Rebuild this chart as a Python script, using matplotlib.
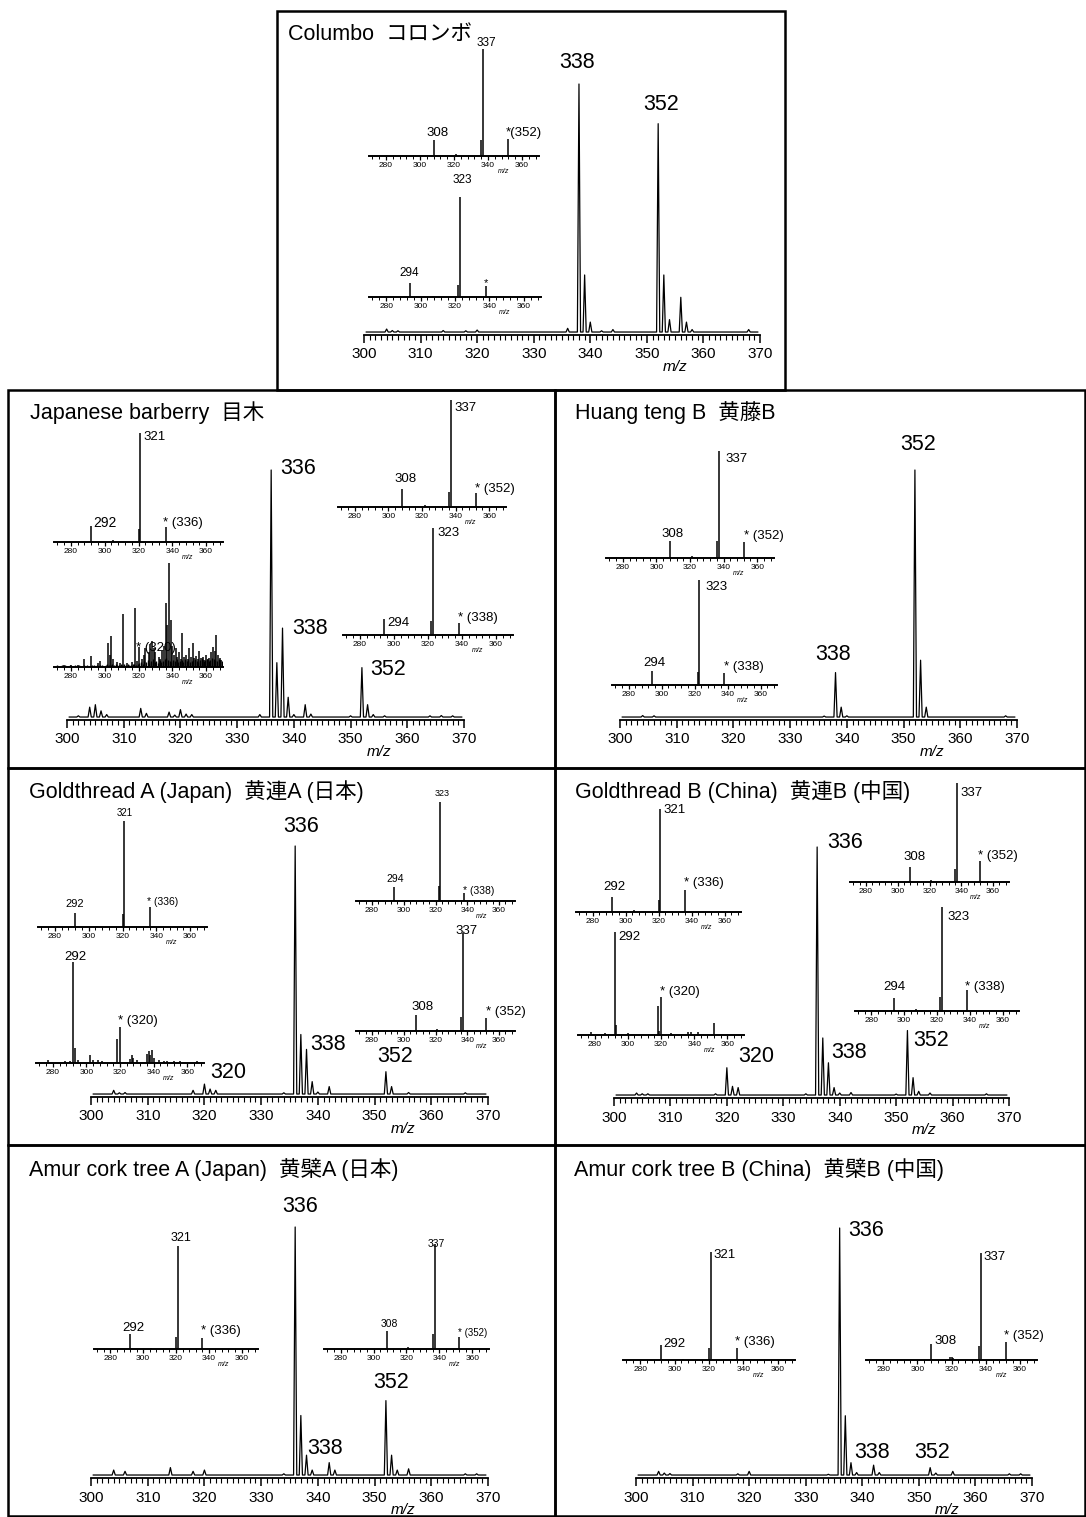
import matplotlib
matplotlib.use('Agg')
import matplotlib.pyplot as plt
from matplotlib.patches import Rectangle
from matplotlib.ticker import MultipleLocator
import numpy as np

plt.rcParams['font.family'] = ['Liberation Sans', 'Noto Sans CJK JP']

# ---------------- main spectra: m/z and relative intensity ----------------
col_mz = [304, 305, 306, 314, 318, 320, 336, 338, 339, 340, 342, 344, 352, 353, 354, 356, 357, 358, 368]
col_int = [1.2, 0.6, 0.5, 0.6, 0.5, 0.8, 1.5, 100, 23, 4, 0.5, 1, 84, 23, 5, 14, 4, 1, 1]

jb_mz = [302, 304, 305, 306, 307, 313, 314, 318, 319, 320, 321, 322, 334, 336, 337, 338, 339, 340,
         342, 343, 350, 352, 353, 354, 356, 364, 366, 368]
jb_int = [0.5, 4, 5, 2.5, 1, 3.5, 1.5, 2, 0.8, 3, 1.2, 1, 1, 100, 22, 36, 8, 1,
          5, 1.2, 0.5, 20, 5, 1, 0.5, 0.5, 0.6, 0.5]

ht_mz = [304, 306, 336, 338, 339, 340, 352, 353, 354, 368]
ht_int = [0.6, 0.5, 0.4, 18, 4, 0.5, 100, 23, 4, 0.5]

ga_mz = [304, 305, 306, 318, 320, 321, 322, 334, 336, 337, 338, 339, 340, 342, 352, 353, 356, 366]
ga_int = [1.5, 0.5, 0.6, 1.5, 4, 2, 1.5, 0.5, 100, 24, 18, 5, 0.8, 3, 9, 3, 0.6, 0.5]

gb_mz = [304, 305, 306, 318, 320, 321, 322, 334, 336, 337, 338, 339, 340, 342, 350, 352, 353, 354, 356, 366]
gb_int = [0.8, 0.5, 0.5, 0.5, 11, 3.5, 3, 0.5, 100, 23, 13, 3, 0.8, 1, 0.4, 26, 7, 1.5, 0.8, 0.5]

aa_mz = [304, 306, 314, 318, 320, 334, 336, 337, 338, 339, 342, 343, 352, 353, 354, 356, 366, 368]
aa_int = [2, 1.5, 3, 1.5, 2, 0.5, 100, 24, 8, 2, 5, 2, 30, 8, 2, 2.5, 0.5, 0.5]

ab_mz = [304, 305, 306, 318, 320, 334, 336, 337, 338, 339, 342, 343, 352, 353, 356, 366, 368]
ab_int = [1.5, 0.8, 0.6, 0.5, 1.5, 0.3, 100, 24, 5, 1, 4, 1, 3, 0.8, 1.5, 0.5, 0.5]

# ---------------- MS/MS insets ----------------
col_a_mz, col_a_int = [308, 321, 336, 337, 352], [15, 2, 15, 100, 16]
col_b_mz, col_b_int = [294, 307, 322, 323, 338], [14, 1.5, 12, 100, 11]

jb_a_mz, jb_a_int = [292, 305, 320, 321, 336], [15, 1.5, 12, 100, 14]
jb_b_mz = [276, 280, 284, 288, 292, 296, 297, 302, 303, 304, 305, 307, 309, 311, 313, 316, 318, 319,
           320, 322, 323, 324, 326, 327, 328, 329, 330, 332, 333, 334, 335, 336, 337, 338, 339, 340,
           341, 342, 343, 344, 345, 346, 347, 348, 349, 350, 351, 352, 353, 354, 355, 356, 357, 358,
           359, 360, 361, 362, 363, 364, 365, 366, 367, 368, 369]
jb_b_int = [2, 2, 1.5, 8, 11, 4, 6, 23, 12, 30, 8, 5, 4, 51, 4, 5, 57, 6,
            19, 8, 12, 18, 14, 22, 25, 18, 14, 10, 8, 15, 20, 62, 40, 100, 45, 20,
            12, 18, 10, 14, 8, 33, 10, 12, 8, 18, 10, 23, 9, 11, 8, 15, 9, 10,
            7, 12, 8, 9, 14, 19, 15, 31, 12, 9, 7]
jb_b_noise = [1, 2, 1, 1, 2, 1, 2, 1, 1, 2, 1, 1, 2, 1, 2, 1, 1, 2, 1, 2, 1, 1, 2, 2, 1, 2, 1, 2, 2, 1,
              2, 3, 2, 2, 3, 2, 3, 2, 2, 3, 2, 3, 2, 3, 2, 2, 3, 3, 2, 3,
              4, 5, 3, 6, 5, 7, 4, 6, 8, 5, 6, 4, 7, 5, 6, 8, 9, 7, 6, 5, 7, 6, 8, 5, 6, 7, 5, 8, 6, 7,
              5, 6, 7, 8, 6, 5, 7, 9, 6, 7, 8, 6, 7, 9, 8, 7, 6, 8, 7, 6]
jb_c_mz, jb_c_int = [308, 322, 336, 337, 352], [17, 1.5, 14, 100, 13]
jb_d_mz, jb_d_int = [294, 306, 322, 323, 338], [15, 1, 13, 100, 11]

ht_e_mz, ht_e_int = [308, 321, 336, 337, 352], [16, 2, 16, 100, 15]
ht_f_mz, ht_f_int = [294, 322, 323, 338], [13, 12, 100, 11]

ga_g_mz, ga_g_int = [292, 305, 320, 321, 336], [13, 1, 12, 100, 19]
ga_h_mz = [277, 287, 290, 292, 293, 295, 302, 304, 307, 309, 318, 320, 326, 327, 328, 330,
           336, 337, 338, 339, 340, 343, 346, 348, 352, 356, 366]
ga_h_int = [3, 2, 2, 100, 15, 3, 8, 3, 3, 2, 24, 36, 4, 8, 5, 3,
            9, 12, 8, 13, 5, 3, 2, 2, 2, 2, 2]
ga_i_mz, ga_i_int = [294, 306, 322, 323, 338], [14, 1.5, 15, 100, 8]
ga_j_mz, ga_j_int = [308, 321, 336, 337, 352], [16, 2, 14, 100, 13]

gb_k_mz, gb_k_int = [292, 305, 320, 321, 336], [15, 1.5, 12, 100, 21]
gb_l_mz = [278, 286, 292, 293, 300, 318, 319, 320, 326, 336, 338, 342, 352]
gb_l_int = [3, 2, 100, 10, 2, 28, 4, 37, 2, 3, 3, 3, 12]
gb_m_mz, gb_m_int = [308, 321, 336, 337, 352], [15, 2, 13, 100, 21]
gb_n_mz, gb_n_int = [294, 307, 322, 323, 338], [12.5, 1.5, 13, 100, 20]

aa_o_mz, aa_o_int = [292, 305, 320, 321, 336], [15, 1, 12, 100, 11]
aa_p_mz, aa_p_int = [308, 321, 336, 337, 352], [17, 2, 14, 100, 11]

ab_q_mz, ab_q_int = [292, 305, 320, 321, 336], [14, 1, 11, 100, 11]
ab_r_mz, ab_r_int = [308, 319, 320, 321, 336, 337, 352], [15, 3, 3, 2, 13, 100, 17]

# ---------------- layout (pixels of the 1086x1517 canvas) ----------------
W, H = 1086, 1517
fig = plt.figure(figsize=(W / 100, H / 100), dpi=100)


def ftext(s, x, y, size, ha='center', **kw):
    fig.text(x / W, 1 - y / H, s, fontsize=size, ha=ha, va='center', **kw)


def main_spec(mz, inten, geom):
    x300, x370, ybase, ytop = geom
    ax = fig.add_axes([x300 / W, 1 - ybase / H, (x370 - x300) / W, (ybase - ytop) / H])
    xs, ys = [300.4], [0]
    for m, h in sorted(zip(mz, inten)):
        xs += [m - 0.28, m, m + 0.28]
        ys += [0, h, 0]
    xs.append(369.6)
    ys.append(0)
    ax.plot(xs, ys, color='black', lw=0.9, clip_on=False)
    ax.set_xlim(300, 370)
    ax.set_ylim(-1.2, 100)
    for s in ['top', 'left', 'right']:
        ax.spines[s].set_visible(False)
    ax.spines['bottom'].set_linewidth(1.3)
    ax.patch.set_alpha(0)
    ax.set_yticks([])
    ax.xaxis.set_major_locator(MultipleLocator(10))
    ax.xaxis.set_minor_locator(MultipleLocator(1))
    ax.tick_params(axis='x', which='major', direction='out', length=6, width=1.1,
                   labelsize=11, pad=3)
    ax.tick_params(axis='x', which='minor', direction='out', length=3.5, width=0.8)
    ax.annotate('m/z', xy=(355, 0), xycoords=('data', 'axes fraction'),
                xytext=(0, -23), textcoords='offset points', ha='center', va='center',
                fontsize=11, style='italic')
    return ax


def inset_spec(mz, inten, geom, noise=None):
    x270, x370, ybase, ytop = geom
    ax = fig.add_axes([x270 / W, 1 - ybase / H, (x370 - x270) / W, (ybase - ytop) / H])
    if noise is not None:
        ax.vlines(np.arange(270.5, 370, 1.0), 0, noise, color='black', lw=1.0)
    ax.vlines(mz, 0, inten, color='black', lw=1.1)
    ax.set_xlim(270, 370)
    ax.set_ylim(0, 100)
    for s in ['top', 'left', 'right']:
        ax.spines[s].set_visible(False)
    ax.spines['bottom'].set_linewidth(1.4)
    ax.patch.set_alpha(0)
    ax.set_yticks([])
    ax.set_xticks([280, 300, 320, 340, 360])
    ax.xaxis.set_minor_locator(MultipleLocator(4))
    ax.tick_params(axis='x', which='major', direction='out', length=3, width=0.9,
                   labelsize=6, pad=1.5)
    ax.tick_params(axis='x', which='minor', direction='out', length=2, width=0.7)
    ax.annotate('m/z', xy=(349, 0), xycoords=('data', 'axes fraction'),
                xytext=(0, -11), textcoords='offset points', ha='center', va='center',
                fontsize=5, style='italic')
    return ax


panels = [
    dict(title='Columbo  コロンボ', txy=(288, 34),
         spec=(col_mz, col_int), geom=(364, 760, 335, 84),
         labels=[('338', 577, 63), ('352', 661, 104)],
         insets=[
             (col_a_mz, col_a_int, None, (369, 539, 156, 49),
              [('337', 486, 43, 'center', 8.5), ('308', 438, 133, 'center', 9.5),
               ('*(352)', 506, 133, 'left', 9.5)]),
             (col_b_mz, col_b_int, None, (369, 541, 297, 197),
              [('323', 462, 180, 'center', 8.5), ('294', 409, 273, 'center', 8.5),
               ('*', 486, 283, 'center', 8)]),
         ]),
    dict(title='Japanese barberry  目木', txy=(30, 413),
         spec=(jb_mz, jb_int), geom=(67, 464, 720, 470),
         labels=[('336', 298, 468), ('338', 310, 629), ('352', 388, 669)],
         insets=[
             (jb_a_mz, jb_a_int, None, (54, 223, 542, 433),
              [('321', 143, 437, 'left', 9.5), ('292', 93, 523, 'left', 10),
               ('* (336)', 163, 523, 'left', 9.5)]),
             (jb_b_mz, jb_b_int, jb_b_noise, (54, 223, 667, 563),
              [('* (320)', 136, 648, 'left', 9.5)]),
             (jb_c_mz, jb_c_int, None, (338, 506, 507, 400),
              [('337', 454, 408, 'left', 9.5), ('308', 406, 479, 'center', 9.5),
               ('* (352)', 475, 489, 'left', 9.5)]),
             (jb_d_mz, jb_d_int, None, (343, 513, 635, 528),
              [('323', 437, 533, 'left', 9.5), ('294', 387, 623, 'left', 9.5),
               ('* (338)', 458, 618, 'left', 9.5)]),
         ]),
    dict(title='Huang teng B  黄藤B', txy=(575, 413),
         spec=(ht_mz, ht_int), geom=(620, 1017, 720, 470),
         labels=[('352', 918, 444), ('338', 833, 655)],
         insets=[
             (ht_e_mz, ht_e_int, None, (606, 774, 558, 451),
              [('337', 725, 459, 'left', 9.5), ('308', 673, 534, 'center', 9.5),
               ('* (352)', 744, 536, 'left', 9.5)]),
             (ht_f_mz, ht_f_int, None, (612, 777, 685, 580),
              [('323', 705, 587, 'left', 9.5), ('294', 654, 663, 'center', 9.5),
               ('* (338)', 724, 667, 'left', 9.5)]),
         ]),
    dict(title='Goldthread A (Japan)  黄連A (日本)', txy=(29, 792),
         spec=(ga_mz, ga_int), geom=(91, 488, 1097, 846),
         labels=[('336', 301, 827), ('338', 328, 1044), ('352', 395, 1057), ('320', 228, 1073)],
         insets=[
             (ga_g_mz, ga_g_int, None, (38, 207, 927, 821),
              [('321', 125, 813, 'center', 7), ('292', 75, 904, 'center', 8),
               ('* (336)', 147, 902, 'left', 7.5)]),
             (ga_h_mz, ga_h_int, None, (36, 204, 1063, 962),
              [('292', 75, 957, 'center', 9.5), ('* (320)', 118, 1021, 'left', 9.5)]),
             (ga_i_mz, ga_i_int, None, (356, 515, 901, 802),
              [('323', 442, 794, 'center', 6.5), ('294', 395, 879, 'center', 7.5),
               ('* (338)', 463, 891, 'left', 7.5)]),
             (ga_j_mz, ga_j_int, None, (356, 515, 1031, 933),
              [('337', 467, 931, 'center', 9.5), ('308', 423, 1007, 'center', 9.5),
               ('* (352)', 486, 1012, 'left', 9.5)]),
         ]),
    dict(title='Goldthread B (China)  黄連B (中国)', txy=(575, 792),
         spec=(gb_mz, gb_int), geom=(614, 1009, 1098, 847),
         labels=[('336', 845, 843), ('338', 849, 1053), ('352', 931, 1041), ('320', 756, 1057)],
         insets=[
             (gb_k_mz, gb_k_int, None, (576, 741, 912, 809),
              [('321', 663, 810, 'left', 9.5), ('292', 614, 887, 'center', 9.5),
               ('* (336)', 684, 883, 'left', 9.5)]),
             (gb_l_mz, gb_l_int, None, (578, 744, 1035, 932),
              [('292', 618, 937, 'left', 9.5), ('* (320)', 660, 992, 'left', 9.5)]),
             (gb_m_mz, gb_m_int, None, (850, 1009, 882, 783),
              [('337', 960, 793, 'left', 9.5), ('308', 915, 857, 'center', 9.5),
               ('* (352)', 978, 856, 'left', 9.5)]),
             (gb_n_mz, gb_n_int, None, (855, 1019, 1011, 907),
              [('323', 947, 917, 'left', 9.5), ('294', 894, 987, 'center', 9.5),
               ('* (338)', 965, 987, 'left', 9.5)]),
         ]),
    dict(title='Amur cork tree A (Japan)  黄檗A (日本)', txy=(29, 1169),
         spec=(aa_mz, aa_int), geom=(91, 488, 1478, 1227),
         labels=[('336', 300, 1207), ('338', 325, 1449), ('352', 391, 1382)],
         insets=[
             (aa_o_mz, aa_o_int, None, (94, 258, 1349, 1246),
              [('321', 181, 1238, 'center', 9), ('292', 133, 1328, 'center', 9.5),
               ('* (336)', 201, 1331, 'left', 9.5)]),
             (aa_p_mz, aa_p_int, None, (324, 489, 1349, 1244),
              [('337', 436, 1244, 'center', 7.5), ('308', 389, 1324, 'center', 7.5),
               ('* (352)', 458, 1333, 'left', 7)]),
         ]),
    dict(title='Amur cork tree B (China)  黄檗B (中国)', txy=(574, 1169),
         spec=(ab_mz, ab_int), geom=(636, 1032, 1478, 1228),
         labels=[('336', 866, 1231), ('338', 872, 1452), ('352', 932, 1453)],
         insets=[
             (ab_q_mz, ab_q_int, None, (623, 795, 1360, 1252),
              [('321', 713, 1255, 'left', 9.5), ('292', 663, 1344, 'left', 9.5),
               ('* (336)', 735, 1342, 'left', 9.5)]),
             (ab_r_mz, ab_r_int, None, (866, 1037, 1360, 1253),
              [('337', 983, 1257, 'left', 9.5), ('308', 934, 1341, 'left', 9.5),
               ('* (352)', 1004, 1336, 'left', 9.5)]),
         ]),
]

for p in panels:
    main_spec(p['spec'][0], p['spec'][1], p['geom'])
    ftext(p['title'], p['txy'][0], p['txy'][1], 15.5, ha='left')
    for s, x, y in p['labels']:
        ftext(s, x, y, 15.5)
    for mz, inten, noise, geom, labs in p['insets']:
        inset_spec(mz, inten, geom, noise)
        for s, x, y, ha, size in labs:
            ftext(s, x, y, size, ha=ha)

# panel frames
boxes = [(277, 11, 785, 390),
         (8, 390, 555, 768), (555, 390, 1085, 768),
         (8, 768, 555, 1145), (555, 768, 1085, 1145),
         (8, 1145, 555, 1516), (555, 1145, 1085, 1516)]
for x0, y0, x1, y1 in boxes:
    fig.add_artist(Rectangle((x0 / W, 1 - y1 / H), (x1 - x0) / W, (y1 - y0) / H,
                             transform=fig.transFigure, fill=False, lw=1.8,
                             edgecolor='black'))

fig.savefig('out.png', dpi=100, facecolor='white')
